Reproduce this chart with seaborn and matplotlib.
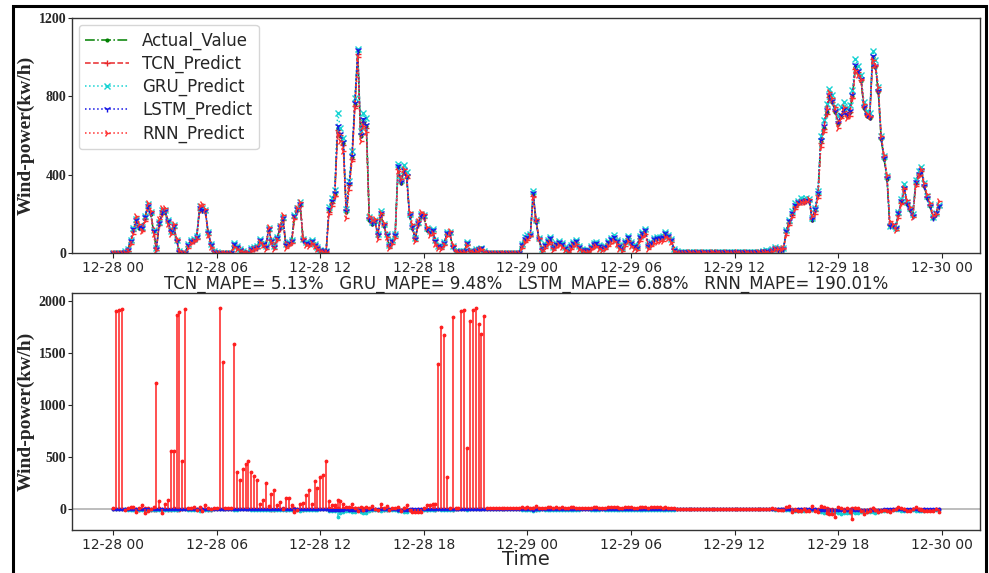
import numpy as np
import pandas as pd
import matplotlib
matplotlib.use("Agg")
import matplotlib.pyplot as plt
import matplotlib.dates as mdates
from matplotlib.patches import Rectangle
import seaborn as sns

# ---------------- data (10-minute steps, 12-28 00:00 .. 12-29 23:50) ----------------
start_time = "2019-12-28 00:00"
n_points = 288

actual = [
    0, 0, 0, 0, 5, 15, 60, 120, 165, 130, 125, 180,
    238, 200, 110, 20, 150, 205, 212, 160, 105, 135, 60, 5,
    0, 0, 40, 60, 65, 80, 225, 220, 215, 100, 40, 5,
    0, 0, 0, 0, 0, 0, 42, 30, 15, 5, 0, 0,
    20, 25, 30, 65, 45, 30, 120, 60, 30, 75, 130, 175,
    40, 50, 60, 185, 220, 245, 65, 50, 45, 60, 40, 25,
    12, 10, 8, 220, 260, 300, 640, 600, 560, 210, 350, 490,
    760, 1030, 600, 680, 650, 170, 150, 160, 90, 200, 140, 90,
    35, 60, 90, 440, 360, 420, 390, 190, 130, 70, 150, 190,
    185, 120, 105, 115, 60, 35, 30, 50, 100, 100, 30, 8,
    5, 5, 8, 50, 10, 5, 15, 18, 25, 5, 0, 0,
    0, 0, 0, 0, 0, 0, 0, 0, 0, 0, 40, 70,
    80, 90, 300, 160, 70, 15, 40, 60, 75, 25, 45, 55,
    45, 25, 10, 35, 50, 60, 30, 15, 12, 12, 30, 45,
    50, 35, 25, 30, 55, 70, 82, 60, 35, 20, 55, 80,
    50, 35, 25, 80, 100, 115, 35, 50, 70, 75, 75, 78,
    100, 85, 65, 15, 5, 5, 5, 4, 5, 5, 4, 5,
    5, 5, 4, 5, 5, 5, 5, 4, 5, 5, 5, 4,
    5, 5, 5, 4, 5, 5, 5, 5, 4, 5, 8, 10,
    5, 15, 25, 15, 15, 20, 110, 160, 200, 240, 255, 265,
    262, 270, 265, 170, 220, 300, 570, 640, 720, 800, 770, 720,
    660, 700, 730, 700, 720, 800, 950, 920, 880, 740, 700, 690,
    1000, 950, 820, 580, 480, 380, 136, 140, 125, 200, 260, 330,
    250, 220, 190, 360, 400, 420, 340, 280, 240, 180, 200, 240,
]

tcn_pred = [
    0, 0, 0, 0, 3, 12, 55, 112, 160, 135, 120, 172,
    230, 205, 118, 28, 142, 200, 215, 165, 110, 128, 66, 10,
    2, 0, 35, 55, 62, 76, 218, 222, 210, 108, 45, 8,
    2, 0, 0, 0, 0, 0, 38, 32, 18, 8, 2, 0,
    18, 22, 28, 60, 48, 32, 112, 65, 34, 70, 125, 168,
    45, 48, 58, 178, 215, 240, 70, 52, 48, 56, 42, 28,
    14, 10, 8, 210, 255, 292, 630, 605, 550, 220, 345, 480,
    750, 1015, 610, 670, 640, 180, 155, 158, 95, 192, 145, 95,
    38, 58, 88, 430, 365, 412, 385, 195, 128, 75, 145, 185,
    180, 125, 108, 112, 65, 38, 32, 48, 96, 98, 34, 10,
    6, 5, 8, 46, 12, 6, 14, 18, 22, 7, 1, 0,
    0, 0, 0, 0, 0, 0, 0, 0, 0, 0, 36, 66,
    78, 92, 290, 165, 72, 18, 38, 58, 72, 28, 44, 52,
    44, 27, 12, 33, 48, 58, 32, 17, 13, 12, 28, 43,
    48, 36, 26, 29, 52, 67, 80, 62, 37, 22, 52, 77,
    52, 37, 26, 76, 97, 112, 38, 48, 68, 73, 74, 76,
    97, 86, 67, 18, 6, 5, 4, 4, 5, 4, 4, 5,
    5, 4, 4, 5, 4, 5, 4, 4, 5, 4, 5, 4,
    5, 4, 5, 4, 4, 5, 4, 5, 4, 5, 7, 9,
    6, 14, 23, 17, 14, 18, 105, 155, 195, 236, 252, 262,
    260, 268, 266, 175, 215, 295, 560, 635, 712, 795, 772, 725,
    665, 698, 725, 705, 718, 792, 940, 925, 885, 748, 705, 692,
    990, 955, 828, 590, 488, 390, 142, 138, 128, 195, 255, 325,
    255, 224, 192, 352, 396, 418, 342, 285, 244, 184, 198, 236,
]

gru_pred = [
    0, 0, 0, 0, 8, 20, 68, 128, 175, 138, 132, 190,
    250, 210, 115, 25, 160, 218, 222, 168, 112, 142, 65, 8,
    2, 2, 45, 68, 72, 88, 238, 228, 222, 106, 45, 8,
    3, 2, 2, 2, 2, 2, 50, 35, 18, 8, 3, 2,
    25, 30, 35, 72, 50, 35, 128, 65, 35, 82, 138, 185,
    45, 55, 68, 195, 232, 258, 72, 55, 50, 68, 45, 30,
    15, 12, 10, 235, 280, 320, 715, 640, 585, 225, 370, 520,
    790, 1040, 625, 715, 690, 185, 160, 170, 95, 215, 150, 95,
    40, 65, 95, 455, 375, 450, 415, 200, 140, 75, 160, 200,
    195, 128, 110, 122, 65, 38, 35, 55, 105, 105, 35, 10,
    8, 8, 10, 58, 12, 8, 18, 20, 28, 8, 2, 2,
    2, 2, 2, 2, 2, 2, 2, 2, 2, 2, 48, 80,
    90, 95, 315, 170, 75, 18, 48, 68, 82, 30, 50, 60,
    52, 30, 14, 40, 55, 65, 35, 18, 15, 15, 35, 52,
    56, 40, 28, 35, 62, 78, 90, 65, 40, 25, 62, 88,
    58, 40, 30, 88, 108, 122, 40, 55, 78, 82, 80, 85,
    108, 90, 70, 20, 8, 6, 7, 6, 7, 6, 6, 7,
    6, 7, 6, 7, 6, 7, 7, 6, 6, 7, 6, 6,
    7, 6, 7, 6, 7, 6, 6, 7, 6, 7, 10, 13,
    8, 18, 30, 18, 18, 24, 118, 170, 212, 255, 268, 280,
    278, 282, 275, 178, 232, 315, 600, 680, 760, 835, 805, 750,
    700, 745, 770, 740, 755, 830, 990, 955, 910, 770, 725, 715,
    1030, 985, 850, 600, 495, 395, 140, 145, 130, 210, 275, 350,
    262, 230, 198, 375, 420, 440, 355, 290, 248, 185, 205, 245,
]

lstm_pred = [
    0, 0, 0, 0, 6, 16, 62, 122, 168, 132, 126, 182,
    240, 202, 112, 22, 152, 207, 214, 162, 107, 137, 62, 6,
    1, 1, 42, 62, 67, 82, 228, 222, 217, 102, 42, 6,
    1, 1, 1, 1, 1, 1, 44, 31, 16, 6, 1, 1,
    21, 26, 31, 67, 46, 31, 122, 61, 31, 77, 132, 178,
    41, 51, 62, 188, 223, 248, 66, 51, 46, 61, 41, 26,
    13, 11, 9, 224, 264, 305, 650, 608, 566, 212, 354, 496,
    768, 1035, 605, 686, 655, 172, 152, 162, 91, 203, 142, 91,
    36, 61, 91, 446, 364, 426, 395, 192, 131, 71, 152, 192,
    187, 121, 106, 117, 61, 36, 31, 51, 101, 101, 31, 9,
    6, 6, 9, 51, 11, 6, 16, 19, 26, 6, 1, 1,
    1, 1, 1, 1, 1, 1, 1, 1, 1, 1, 41, 71,
    82, 91, 304, 162, 71, 16, 41, 61, 77, 26, 46, 56,
    46, 26, 11, 36, 51, 61, 31, 16, 13, 13, 31, 46,
    51, 36, 26, 31, 56, 72, 84, 61, 36, 21, 56, 82,
    51, 36, 26, 82, 102, 117, 36, 51, 71, 76, 76, 80,
    102, 86, 66, 16, 6, 6, 6, 5, 6, 6, 5, 6,
    6, 6, 5, 6, 6, 6, 6, 5, 6, 6, 6, 5,
    6, 6, 6, 5, 6, 6, 6, 6, 5, 6, 9, 11,
    6, 16, 26, 16, 16, 21, 112, 163, 204, 244, 258, 268,
    265, 273, 268, 172, 223, 304, 576, 648, 728, 808, 778, 726,
    666, 706, 736, 706, 726, 808, 958, 928, 886, 745, 705, 694,
    1008, 956, 826, 584, 483, 382, 137, 141, 126, 202, 263, 334,
    252, 222, 191, 363, 404, 424, 343, 282, 241, 181, 202, 242,
]

rnn_pred = [
    0, 0, 0, 0, 2, 8, 45, 95, 190, 150, 110, 165,
    255, 215, 95, 15, 175, 230, 230, 150, 95, 150, 70, 8,
    0, 0, 25, 50, 60, 70, 240, 250, 225, 90, 30, 2,
    0, 0, 0, 0, 0, 0, 30, 22, 10, 5, 0, 0,
    12, 20, 25, 55, 40, 22, 135, 55, 20, 65, 140, 195,
    25, 40, 50, 175, 230, 260, 75, 40, 35, 50, 35, 20,
    8, 5, 5, 200, 240, 290, 610, 570, 520, 180, 320, 470,
    740, 1000, 570, 650, 620, 190, 170, 175, 70, 205, 155, 80,
    25, 45, 75, 420, 380, 430, 400, 210, 150, 60, 165, 210,
    200, 135, 90, 100, 45, 25, 20, 40, 85, 110, 40, 5,
    3, 3, 5, 40, 8, 3, 10, 15, 20, 3, 0, 0,
    0, 0, 0, 0, 0, 0, 0, 0, 0, 0, 25, 55,
    65, 85, 285, 175, 75, 10, 25, 45, 55, 15, 30, 40,
    30, 15, 5, 20, 35, 45, 20, 8, 5, 5, 18, 30,
    35, 22, 15, 18, 38, 50, 62, 45, 22, 10, 38, 60,
    35, 22, 15, 60, 80, 95, 22, 35, 52, 58, 60, 60,
    80, 75, 55, 8, 2, 2, 2, 2, 3, 2, 2, 3,
    2, 3, 2, 2, 3, 2, 3, 2, 2, 3, 2, 2,
    2, 3, 2, 2, 3, 2, 2, 2, 3, 2, 5, 7,
    2, 10, 20, 20, 20, 25, 90, 145, 185, 225, 248, 262,
    258, 268, 275, 190, 200, 280, 540, 620, 735, 820, 790, 745,
    640, 690, 745, 690, 700, 790, 935, 910, 890, 760, 710, 700,
    985, 960, 850, 600, 500, 400, 165, 150, 120, 180, 250, 330,
    270, 235, 185, 340, 395, 430, 355, 300, 255, 195, 200, 265,
]

# RNN error series as drawn in the lower panel
rnn_err = [
    10, 1905, 1908, 1920, -10, 15, 20, 22, -25, 10, 38, -35,
    -19, 5, 16, 1215, 76, -35, 54, 86, 563, 556, 1860, 1889,
    458, 1920, 15, 10, 18, -10, 20, -15, 40, 12, 5, 8,
    10, 1930, 1412, 10, 8, 12, 1590, 356, 277, 388, 436, 461,
    356, 318, 277, 54, 86, 254, 29, 143, 181, 38, 64, 0,
    111, 108, 38, -25, -10, 54, 60, 140, 188, 54, 267, 207,
    308, 324, 458, 76, 38, 38, 86, 80, 54, 16, 22, 54,
    15, -15, 20, -10, 25, 10, 29, 5, -10, 54, 8, 29,
    -5, 12, 15, 20, -15, 10, 38, -8, -25, -25, -25, -25,
    15, 38, 40, 45, 50, 1390, 1746, 1670, 308, 15, 1841, 10,
    12, 1905, 1908, 590, 1810, 1908, 1930, 1780, 1681, 1850, 15, 10,
    12, 8, 10, 15, 10, 12, 10, 8, 12, 15, 20, 10,
    25, 15, 10, 30, 12, 8, 15, 20, 18, 15, 20, 12,
    18, 15, 12, 18, 20, 15, 15, 12, 10, 12, 15, 18,
    18, 15, 12, 15, 20, 22, 20, 18, 15, 12, 18, 22,
    18, 15, 12, 20, 22, 25, 15, 18, 22, 20, 18, 15,
    22, 12, 10, 8, 5, 5, 3, 2, 3, 4, 2, 3,
    3, 2, 2, 3, 2, 3, 2, 2, 3, 2, 3, 2,
    3, 2, 3, 2, 2, 3, 3, 3, 2, 3, 3, 3,
    5, 8, 5, -5, -8, -5, 20, 35, -25, -10, -20, -15,
    5, -20, -15, 30, -20, -25, 30, 20, -40, -50, -45, -75,
    20, 10, -20, 15, -30, -95, 15, 10, -20, -45, -30, -20,
    15, -10, -30, -20, -10, -20, -30, -10, 5, 20, 10, 5,
    -20, -15, 5, 20, 5, -10, -15, -20, -15, -15, 0, -25,
]

mape_text = "TCN_MAPE= 5.13%   GRU_MAPE= 9.48%   LSTM_MAPE= 6.88%   RNN_MAPE= 190.01%"

for name, arr in [("actual", actual), ("tcn", tcn_pred), ("gru", gru_pred),
                  ("lstm", lstm_pred), ("rnn", rnn_pred), ("rnn_err", rnn_err)]:
    if len(arr) != n_points:
        print("LENGTH MISMATCH", name, len(arr))

times = pd.date_range(start_time, periods=n_points, freq="10min")
xnum = mdates.date2num(times.to_pydatetime())

act = np.array(actual, float)
tcn_err = act - np.array(tcn_pred, float)
gru_err = act - np.array(gru_pred, float)
lstm_err = act - np.array(lstm_pred, float)

# ---------------- style ----------------
sns.set_style("ticks")
plt.rcParams["font.family"] = ["DejaVu Sans"]

W, H = 989, 573
fig = plt.figure(figsize=(W / 100, H / 100), dpi=100)

def fx(px):
    return px / W

def fy(py):
    return 1 - py / H

ax1 = fig.add_axes([fx(72), fy(253), fx(980) - fx(72), fy(18) - fy(253)])
ax2 = fig.add_axes([fx(72), fy(530), fx(980) - fx(72), fy(293) - fy(530)])

serif_bold = dict(family="Liberation Serif", weight="bold")

# ---------------- top panel ----------------
series = [
    ("Actual_Value", actual, "green", "-.", ".", 4),
    ("TCN_Predict", tcn_pred, "#e8282b", "--", "+", 5),
    ("GRU_Predict", gru_pred, "#17d3d3", ":", "x", 4.5),
    ("LSTM_Predict", lstm_pred, "#1414e6", ":", "1", 5),
    ("RNN_Predict", rnn_pred, "#ff3030", ":", "4", 5),
]
for label, vals, col, ls, mk, ms in series:
    sns.lineplot(x=xnum, y=vals, ax=ax1, color=col, linestyle=ls, marker=mk,
                 markersize=ms, markeredgecolor=col, markerfacecolor=col,
                 markeredgewidth=1.0, linewidth=1.1, label=label,
                 estimator=None, sort=False)

ax1.set_ylim(0, 1200)
ax1.set_yticks([0, 400, 800, 1200])
ax1.set_ylabel("Wind-power(kw/h)", fontsize=14, labelpad=3, **serif_bold)
leg = ax1.legend(loc="upper left", fontsize=12, handlelength=2.6,
                 frameon=True, borderaxespad=0.4, labelspacing=0.3)
leg.get_frame().set_edgecolor("#cccccc")

# ---------------- bottom panel ----------------
ax2.axhline(0, color="#b8b8b8", lw=1.3, zorder=0)
stem_series = [
    (tcn_err, "#ff2020"),
    (gru_err, "#17cfcf"),
    (lstm_err, "#1a1ae6"),
    (rnn_err, "#ff2020"),
]
for vals, col in stem_series:
    ml, sl, bl = ax2.stem(xnum, vals, basefmt=" ")
    plt.setp(sl, color=col, linewidth=1.1)
    plt.setp(ml, color=col, marker=".", markersize=3.5)

ax2.set_ylim(-200, 2075)
ax2.set_yticks([0, 500, 1000, 1500, 2000])
ax2.set_ylabel("Wind-power(kw/h)", fontsize=14, labelpad=3, **serif_bold)
ax2.set_xlabel("Time", fontsize=14, labelpad=-1)
ax2.set_title(mape_text, fontsize=12, pad=1)

# ---------------- common axis formatting ----------------
for ax in (ax1, ax2):
    ax.set_xlim(xnum[0] - (xnum[-1] - xnum[0]) * 0.05,
                xnum[-1] + (xnum[-1] - xnum[0]) * 0.05)
    ax.xaxis.set_major_locator(mdates.HourLocator(byhour=[0, 6, 12, 18]))
    ax.xaxis.set_major_formatter(mdates.DateFormatter("%m-%d %H"))
    ax.tick_params(axis="x", labelsize=10, length=3.5, width=0.8, pad=2)
    ax.tick_params(axis="y", labelsize=10, length=3, width=0.8, pad=1)
    for lab in ax.get_yticklabels():
        lab.set_fontfamily("Liberation Serif")
        lab.set_fontweight("bold")
    for sp in ax.spines.values():
        sp.set_visible(True)
        sp.set_color("#333333")
        sp.set_linewidth(1.0)

# outer frame like the source screenshot
fig.patches.append(Rectangle((fx(13), -0.05), fx(986) - fx(13), fy(6) + 0.05,
                             transform=fig.transFigure, fill=False,
                             edgecolor="black", linewidth=2.2, zorder=10))

fig.savefig("out.png", dpi=100)
